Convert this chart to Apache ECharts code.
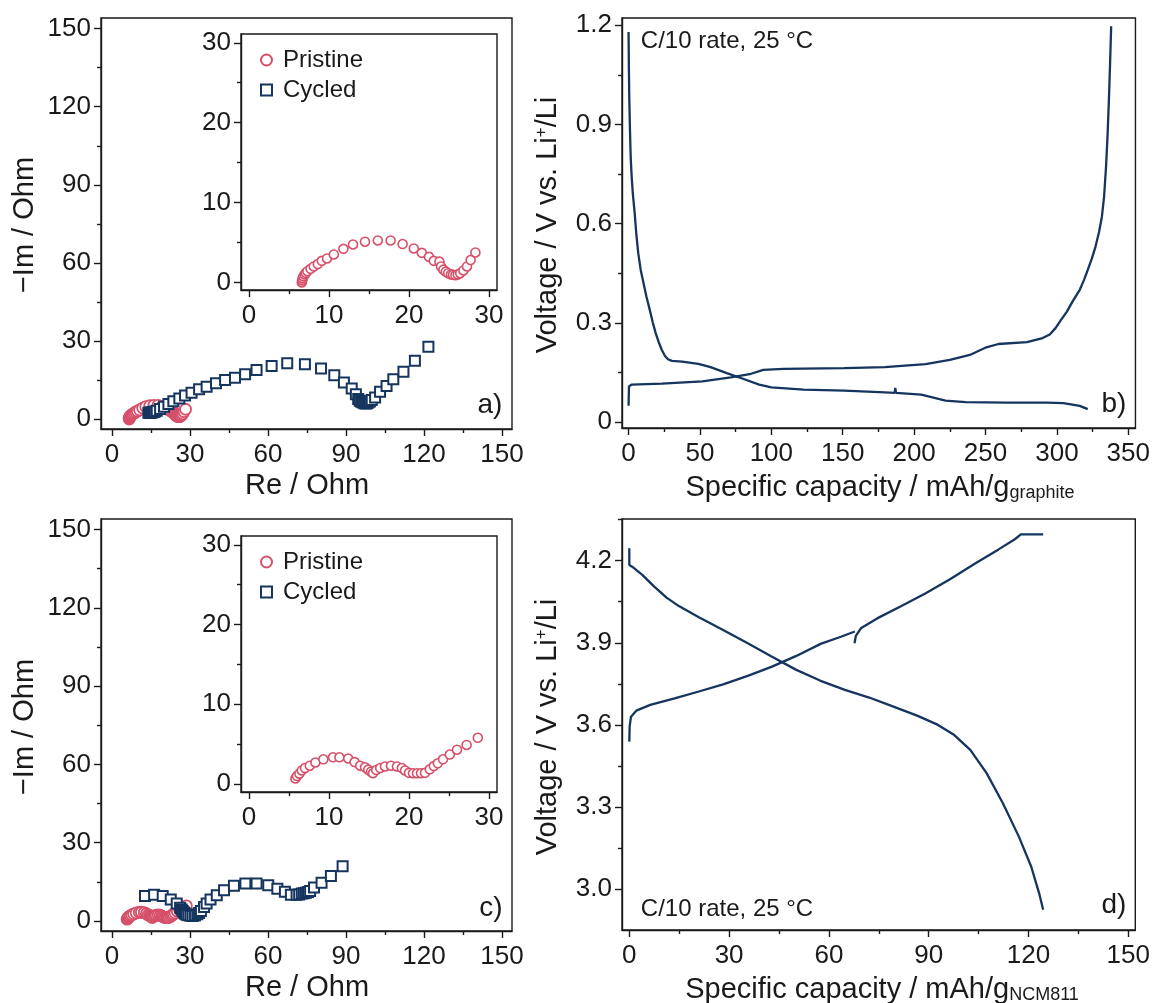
<!DOCTYPE html>
<html lang="en">
<head>
<meta charset="UTF-8">
<title>EIS and voltage profiles</title>
<script src="https://cdn.jsdelivr.net/npm/echarts@6/dist/echarts.min.js"></script>
<style>
  * { margin: 0; padding: 0; }
  html, body { width: 100%; height: 100%; background: #fff; }
  #main { width: 1153px; height: 1003px; }
</style>
</head>
<body>
<div id="main"></div>
<script>
// ---- data ----
var pristineA = [[6.6,0.0],[6.65,0.25],[6.7,0.5],[6.8,0.75],[6.95,1.0],[7.1,1.2],[7.3,1.4],[7.7,1.7],[8.1,2.0],[8.6,2.3],[9.1,2.7],[9.75,3.0],[10.6,3.5],[11.8,4.2],[13.0,4.75],[14.5,5.1],[16.1,5.25],[17.7,5.25],[19.2,4.8],[20.6,4.25],[21.6,3.7],[22.5,3.2],[23.1,2.7],[23.8,2.6],[24.0,2.0],[24.3,1.6],[24.6,1.35],[24.9,1.15],[25.25,1.0],[25.5,0.95],[25.8,0.9],[26.1,1.0],[26.4,1.15],[26.8,1.5],[27.25,2.0],[27.7,2.8],[28.3,3.75]];
var cycledA = [[14.0,2.4],[14.4,2.4],[14.8,2.4],[15.2,2.5],[15.6,2.6],[16.0,2.7],[16.5,2.9],[17.2,3.2],[18.5,3.8],[20.0,4.7],[21.7,5.8],[23.6,6.8],[25.9,7.9],[28.1,9.0],[30.6,10.1],[33.5,11.4],[36.4,12.4],[40.0,13.7],[43.5,15.0],[47.3,15.9],[51.2,17.2],[55.6,18.8],[61.4,20.4],[67.4,21.4],[74.2,21.0],[80.4,19.4],[85.5,16.8],[89.2,14.0],[92.2,11.7],[93.8,9.5],[94.7,7.7],[95.3,7.0],[95.9,6.6],[96.5,6.3],[97.1,6.1],[97.6,6.0],[98.1,6.1],[98.6,6.3],[99.2,6.7],[99.9,7.3],[101.2,8.3],[103.1,10.5],[105.6,12.7],[108.2,15.3],[112.1,18.2],[116.5,22.4],[121.7,27.8]];
var pristineC = [[5.8,0.7],[6.0,1.0],[6.3,1.3],[6.6,1.7],[7.0,2.0],[7.6,2.3],[8.3,2.7],[9.3,3.1],[10.5,3.35],[11.3,3.35],[12.4,3.2],[13.2,2.75],[13.9,2.3],[14.5,2.1],[14.9,1.8],[15.25,1.55],[15.5,1.35],[15.9,1.75],[16.4,2.0],[17.0,2.2],[17.75,2.3],[18.5,2.2],[19.1,2.0],[19.5,1.7],[20.0,1.4],[20.5,1.35],[21.0,1.35],[21.5,1.35],[22.0,1.4],[22.6,1.85],[23.1,2.25],[23.6,2.6],[24.25,3.1],[25.1,3.7],[26.0,4.3],[27.2,4.9],[28.6,5.8]];
var cycledC = [[12.7,9.6],[16.2,10.1],[19.5,9.6],[22.6,8.2],[24.9,6.7],[26.2,5.1],[26.8,4.4],[27.2,3.8],[27.7,3.3],[28.1,2.8],[28.7,2.4],[29.4,2.2],[30.2,2.0],[31.0,1.9],[31.9,2.1],[32.8,2.6],[33.5,3.1],[34.2,3.8],[35.4,5.4],[36.4,6.7],[37.9,8.2],[40.3,9.9],[43.1,11.8],[46.9,13.5],[51.3,14.4],[55.6,14.4],[60.1,13.7],[63.6,12.4],[66.5,11.2],[68.8,10.1],[71.0,10.1],[72.0,10.2],[73.0,10.5],[73.8,10.6],[74.6,10.8],[75.4,11.1],[76.2,11.5],[77.7,12.8],[80.6,14.7],[84.2,17.2],[88.7,21.0]];

var graphiteLith = [[0,1.18],[0.2,1.08],[0.5,0.98],[1,0.88],[1.5,0.8],[2.2,0.74],[3,0.69],[4.3,0.631],[5.5,0.565],[6.8,0.51],[8.5,0.46],[10.5,0.42],[12.5,0.38],[14.8,0.34],[17,0.3],[19,0.269],[21,0.243],[23.3,0.218],[25.5,0.2],[27.6,0.19],[30.4,0.185],[37.5,0.183],[48.9,0.176],[57.4,0.166],[68.8,0.148],[80.1,0.131],[91.5,0.113],[100,0.105],[122.7,0.098],[151,0.095],[179.5,0.09],[186.4,0.088],[186.8,0.103],[187.3,0.088],[205,0.083],[222,0.065],[236,0.06],[265,0.059],[293,0.059],[304.5,0.057],[316,0.049],[321.6,0.039]];
var graphiteDelith = [[0,0.049],[0.3,0.108],[2,0.113],[23.3,0.116],[51.7,0.123],[71.6,0.135],[85.8,0.146],[94.3,0.158],[108.5,0.161],[151,0.163],[179.5,0.166],[208,0.175],[225,0.188],[239,0.203],[250.6,0.226],[259,0.236],[279,0.242],[290,0.254],[295,0.265],[299,0.284],[303,0.31],[307,0.334],[311,0.365],[316,0.4],[319,0.43],[321.6,0.46],[324.5,0.495],[327,0.53],[329.5,0.575],[331.5,0.621],[333,0.68],[334.4,0.772],[335.5,0.87],[336.4,0.973],[337.2,1.08],[338,1.197]];

var ncmDischarge = [[0,4.245],[0,4.184],[0.85,4.178],[3.9,4.148],[7.5,4.105],[11.2,4.065],[14.9,4.034],[20.9,3.993],[28.2,3.947],[35.6,3.898],[42.9,3.849],[50.2,3.801],[57.5,3.761],[64.8,3.728],[72.1,3.7],[79.4,3.667],[86.7,3.633],[92.8,3.6],[97.7,3.563],[102.5,3.509],[107.4,3.424],[112.3,3.314],[117.1,3.192],[120.8,3.083],[123.2,2.985],[124.4,2.925]];
var ncmCharge1 = [[0,3.539],[0.1,3.594],[0.5,3.63],[2.1,3.652],[6.3,3.673],[13.6,3.697],[20.9,3.722],[28.2,3.748],[35.6,3.779],[42.9,3.813],[50.2,3.852],[57.5,3.896],[63.6,3.922],[67.8,3.941]];
var ncmCharge2 = [[67.7,3.898],[68.1,3.925],[69.6,3.953],[74.5,3.989],[81.8,4.034],[89.1,4.081],[96.4,4.132],[103.7,4.188],[111,4.241],[115.9,4.278],[117.7,4.296],[124.4,4.296]];

// tick values
var eisMajor = [0, 30, 60, 90, 120, 150];
var eisMinor = [15, 45, 75, 105, 135];
var insetMajor = [0, 10, 20, 30];
var insetMinor = [5, 15, 25];
var capBMajor = [0, 50, 100, 150, 200, 250, 300, 350];
var capBMinor = [25, 75, 125, 175, 225, 275, 325];
var voltBMajor = [0, 0.3, 0.6, 0.9, 1.2];
var voltBMinor = [0.15, 0.45, 0.75, 1.05];
var capDMajor = [0, 30, 60, 90, 120, 150];
var capDMinor = [15, 45, 75, 105, 135];
var voltDMajor = [3.0, 3.3, 3.6, 3.9, 4.2];
var voltDMinor = [3.15, 3.45, 3.75, 4.05, 4.35];

var FONT = '"Liberation Sans", Arial, sans-serif';
var RED = '#d6506a';
var NAVY = '#15345e';
var INK = '#1a1a1a';

var grids = [
    { left: 101, top: 18, width: 411, height: 411 },   // a
    { left: 241, top: 34, width: 256, height: 256 },   // a inset
    { left: 622, top: 18, width: 515, height: 410 },   // b
    { left: 101, top: 519, width: 411, height: 412 },  // c
    { left: 241, top: 536, width: 256, height: 256 },  // c inset
    { left: 622, top: 519, width: 515, height: 411 }   // d
].map(function (g) {
    return Object.assign({ show: true, borderColor: INK, borderWidth: 1.4, backgroundColor: '#fff' }, g);
});

var xAxes = [], yAxes = [];
var addAxes = function (list, gridIndex, pos, min, max, major, minor, fmt) {
    var idx = list.length;
    var line = { color: INK, width: 1.4 };
    list.push({
        type: 'value', gridIndex: gridIndex, position: pos, min: min, max: max,
        axisLine: { show: true, onZero: false, lineStyle: line },
        axisTick: { show: true, length: 7, customValues: major, lineStyle: line },
        axisLabel: { customValues: major, formatter: fmt, fontSize: 26, fontFamily: FONT, color: INK, margin: pos === 'bottom' ? 13 : 10 },
        splitLine: { show: false }
    });
    list.push({
        type: 'value', gridIndex: gridIndex, position: pos, min: min, max: max,
        axisLine: { show: false, onZero: false },
        axisTick: { show: true, length: 4, customValues: minor, lineStyle: line },
        axisLabel: { show: false },
        splitLine: { show: false }
    });
    return idx;
};
var plain = function (v) { return String(v); };
var oneDec = function (v) { return v === 0 ? '0' : v.toFixed(1); };

var xa = addAxes(xAxes, 0, 'bottom', -4.23, 153.85, eisMajor, eisMinor, plain);
var ya = addAxes(yAxes, 0, 'left', -3.84, 154.1, eisMajor, eisMinor, plain);
var xai = addAxes(xAxes, 1, 'bottom', -1.0, 31.0, insetMajor, insetMinor, plain);
var yai = addAxes(yAxes, 1, 'left', -0.95, 31.1, insetMajor, insetMinor, plain);
var xb = addAxes(xAxes, 2, 'bottom', -4.6, 355, capBMajor, capBMinor, plain);
var yb = addAxes(yAxes, 2, 'left', -0.018, 1.222, voltBMajor, voltBMinor, oneDec);
var xc = addAxes(xAxes, 3, 'bottom', -4.23, 153.85, eisMajor, eisMinor, plain);
var yc = addAxes(yAxes, 3, 'left', -3.83, 154.0, eisMajor, eisMinor, plain);
var xci = addAxes(xAxes, 4, 'bottom', -1.0, 31.0, insetMajor, insetMinor, plain);
var yci = addAxes(yAxes, 4, 'left', -1.0, 31.1, insetMajor, insetMinor, plain);
var xd = addAxes(xAxes, 5, 'bottom', -2.2, 152.1, capDMajor, capDMinor, plain);
var yd = addAxes(yAxes, 5, 'left', 2.851, 4.352, voltDMajor, voltDMinor, oneDec);

var circles = function (data, xi, yi, size, bw) {
    return {
        name: 'Pristine', type: 'scatter', xAxisIndex: xi, yAxisIndex: yi, data: data,
        symbol: 'circle', symbolSize: size,
        itemStyle: { color: '#fff', borderColor: RED, borderWidth: bw, opacity: 1 }
    };
};
var squares = function (data, xi, yi) {
    return {
        name: 'Cycled', type: 'scatter', xAxisIndex: xi, yAxisIndex: yi, data: data,
        symbol: 'rect', symbolSize: 10,
        itemStyle: { color: '#fff', borderColor: NAVY, borderWidth: 2, opacity: 1 }
    };
};
var curve = function (data, xi, yi) {
    return {
        type: 'line', xAxisIndex: xi, yAxisIndex: yi, data: data, showSymbol: false,
        lineStyle: { color: NAVY, width: 2.3 }
    };
};

var legendFor = function (top) {
    return {
        left: 255, top: top, orient: 'vertical', itemGap: 6, itemWidth: 11, itemHeight: 11,
        selectedMode: false, data: ['Pristine', 'Cycled'],
        textStyle: { fontSize: 24, fontFamily: FONT, color: INK, padding: [0, 0, 0, 6] }
    };
};

var txt = function (x, y, text, size, rot, rich) {
    var el = {
        type: 'text', x: x, y: y, rotation: rot || 0, z: 100,
        style: { text: text, fontSize: size, fontFamily: FONT, fill: INK, align: 'center', verticalAlign: 'middle' }
    };
    if (rich) el.style.rich = rich;
    return el;
};
var richVolt = {
    n: { fontSize: 29, fontFamily: FONT, fill: INK },
    sup: { fontSize: 17, fontFamily: FONT, fill: INK, verticalAlign: 'top', padding: [0, 0, 14, 0] }
};
var richCap = {
    n: { fontSize: 29, fontFamily: FONT, fill: INK },
    sub: { fontSize: 18, fontFamily: FONT, fill: INK, verticalAlign: 'bottom', padding: [10, 0, 0, 0] }
};

var chart = echarts.init(document.getElementById('main'), null, { renderer: 'canvas' });
chart.setOption({
    animation: false,
    backgroundColor: '#fff',
    grid: grids,
    xAxis: xAxes,
    yAxis: yAxes,
    legend: [legendFor(43), legendFor(545)],
    series: [
        circles(pristineA, xa, ya, 11, 1.8),
        squares(cycledA, xa, ya),
        circles(pristineA, xai, yai, 9, 1.6),
        curve(graphiteLith, xb, yb),
        curve(graphiteDelith, xb, yb),
        circles(pristineC, xc, yc, 11, 1.8),
        squares(cycledC, xc, yc),
        circles(pristineC, xci, yci, 9, 1.6),
        curve(ncmDischarge, xd, yd),
        curve(ncmCharge1, xd, yd),
        curve(ncmCharge2, xd, yd)
    ],
    graphic: [
        txt(25, 225, '\u2212Im / Ohm', 29, Math.PI / 2),
        txt(307, 486, 'Re / Ohm', 29),
        txt(25, 727, '\u2212Im / Ohm', 29, Math.PI / 2),
        txt(307, 988, 'Re / Ohm', 29),
        txt(548, 225, '{n|Voltage / V vs. Li}{sup|+}{n|/Li}', 29, Math.PI / 2, richVolt),
        txt(880, 488, '{n|Specific capacity / mAh/g}{sub|graphite}', 29, 0, richCap),
        txt(548, 727, '{n|Voltage / V vs. Li}{sup|+}{n|/Li}', 29, Math.PI / 2, richVolt),
        txt(882, 990, '{n|Specific capacity / mAh/g}{sub|NCM811}', 29, 0, richCap),
        txt(727, 41, 'C/10 rate, 25 \u00B0C', 24),
        txt(727, 909, 'C/10 rate, 25 \u00B0C', 24),
        txt(490, 405, 'a)', 28),
        txt(1114, 404, 'b)', 28),
        txt(491, 908, 'c)', 28),
        txt(1114, 905, 'd)', 28)
    ]
});
</script>
</body>
</html>
